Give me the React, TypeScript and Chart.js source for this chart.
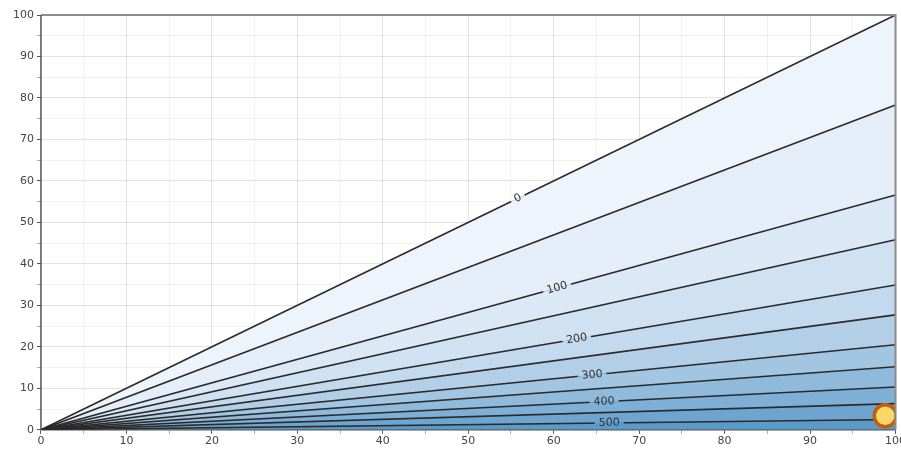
import React, { useEffect, useRef } from "react";
import { Chart, registerables } from "chart.js";

Chart.register(...registerables);

// ---- data ----
const xStart = 0;
const xEnd = 100;
const originY = 0;
const levels = [0, 50, 100, 150, 200, 250, 300, 350, 400, 450, 500];
const levelEndY = [100, 78.3, 56.6, 45.8, 34.9, 27.7, 20.5, 15.2, 10.3, 6.3, 2.5];
const labeledLevels = [0, 100, 200, 300, 400, 500];
const labelX = [55.8, 60.4, 62.7, 64.5, 65.9, 66.5];
const bandColors = [
  "#eef4fb",
  "#e5eef8",
  "#dbe8f5",
  "#d0e1f1",
  "#c3d9ed",
  "#b3cfe8",
  "#a2c5e2",
  "#90badc",
  "#7eafd6",
  "#6da5d0",
  "#5b9bca",
];
const markerX = [98.8];
const markerY = [3.4];
const tickValues = [0, 10, 20, 30, 40, 50, 60, 70, 80, 90, 100];

const labelPlugin = {
  id: "contourLabels",
  afterDraw(chart: any) {
    const ctx = chart.ctx;
    const xs = chart.scales.x;
    labeledLevels.forEach((lvl, k) => {
      const di = levels.indexOf(lvl);
      const pts = chart.getDatasetMeta(di).data;
      const p0 = pts[0];
      const p1 = pts[1];
      const t = (xs.getPixelForValue(labelX[k]) - p0.x) / (p1.x - p0.x);
      const px = p0.x + t * (p1.x - p0.x);
      const py = p0.y + t * (p1.y - p0.y);
      const ang = Math.atan2(p1.y - p0.y, p1.x - p0.x);
      ctx.save();
      ctx.translate(px, py);
      ctx.rotate(ang);
      ctx.font = '11px "DejaVu Sans"';
      const txt = String(lvl);
      const w = ctx.measureText(txt).width + 8;
      const h = 2.5;
      ctx.fillStyle = di === 0 ? "#ffffff" : bandColors[di - 1];
      ctx.fillRect(-w / 2, -h, w, h);
      ctx.fillStyle = bandColors[di];
      ctx.fillRect(-w / 2, 0, w, h);
      ctx.fillStyle = "#333";
      ctx.textAlign = "center";
      ctx.textBaseline = "middle";
      ctx.fillText(txt, 0, 0);
      ctx.restore();
    });
    // frame (spines)
    const a = chart.chartArea;
    ctx.save();
    ctx.strokeStyle = "#8c8c8c";
    ctx.lineWidth = 2;
    ctx.beginPath();
    ctx.moveTo(a.left, a.top);
    ctx.lineTo(a.right, a.top);
    ctx.lineTo(a.right, a.bottom);
    ctx.stroke();
    ctx.strokeStyle = "#555";
    ctx.lineWidth = 1.5;
    ctx.beginPath();
    ctx.moveTo(a.left, a.top);
    ctx.lineTo(a.left, a.bottom);
    ctx.stroke();
    ctx.restore();
  },
};

export default function App() {
  const ref = useRef<HTMLCanvasElement | null>(null);
  useEffect(() => {
    if (!ref.current) return;
    Chart.defaults.font.family = '"DejaVu Sans", sans-serif';
    Chart.defaults.font.size = 11;
    const datasets: any[] = levels.map((lvl, i) => ({
      label: String(lvl),
      data: [
        { x: xStart, y: originY },
        { x: xEnd, y: levelEndY[i] },
      ],
      borderColor: "#2b2b2b",
      borderWidth: 1.6,
      pointRadius: 0,
      fill: i === levels.length - 1 ? "origin" : "+1",
      backgroundColor: bandColors[i],
    }));
    datasets.push({
      label: "marker",
      data: markerX.map((x, i) => ({ x, y: markerY[i] })),
      showLine: false,
      pointRadius: 11,
      pointBorderWidth: 3.5,
      pointBackgroundColor: "#fdd66a",
      pointBorderColor: "#c0600f",
      order: -1,
      fill: false,
    });
    const tickOpts = (axis: string) => ({
      type: "linear",
      min: 0,
      max: 100,
      z: 1,
      afterBuildTicks: (scale: any) => {
        const t: any[] = [];
        for (const v of tickValues) {
          t.push({ value: v });
          if (v < 100) t.push({ value: v + 5 });
        }
        scale.ticks = t;
      },
      ticks: {
        autoSkip: false,
        maxRotation: 0,
        color: "#444",
        padding: axis === "x" ? 1 : 3,
        callback: (v: number) => (tickValues.includes(v) ? String(v) : ""),
      },
      grid: {
        color: (c: any) => (tickValues.includes(c.tick?.value) ? "rgba(0,0,0,0.11)" : "rgba(0,0,0,0.05)"),
        tickColor: (c: any) => (tickValues.includes(c.tick?.value) ? "#555" : "#aaa"),
        tickLength: 4,
      },
      border: { display: axis === "x", color: "#555", width: 1.5 },
    });
    const chart = new Chart(ref.current, {
      type: "line",
      data: { datasets },
      options: {
        animation: false,
        responsive: true,
        maintainAspectRatio: false,
        layout: { padding: { left: 10, top: 15, right: 0, bottom: 0 } },
        plugins: {
          legend: { display: false },
          tooltip: { enabled: false },
          filler: { drawTime: "beforeDatasetsDraw" },
        },
        scales: { x: tickOpts("x"), y: tickOpts("y") } as any,
      },
      plugins: [labelPlugin],
    } as any);
    return () => chart.destroy();
  }, []);
  return (
    <div style={{ position: "fixed", left: 0, top: 0, width: 910, height: 449, background: "#fff" }}>
      <canvas ref={ref} />
    </div>
  );
}
